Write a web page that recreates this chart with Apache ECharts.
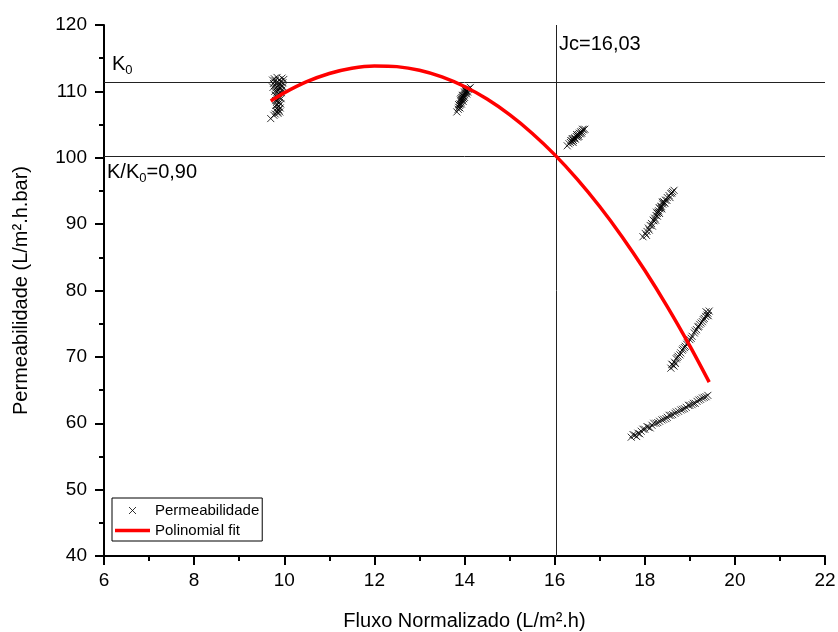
<!DOCTYPE html>
<html>
<head>
<meta charset="utf-8">
<script src="https://cdn.jsdelivr.net/npm/echarts@6/dist/echarts.min.js"></script>
<style>
  html, body { margin: 0; padding: 0; background: #fff; }
  #chart { width: 838px; height: 632px; }
</style>
</head>
<body>
<div id="chart"></div>
<script>
var FONT = '"Liberation Sans", Arial, sans-serif';

// axis ranges / ticks
var xMin = 6, xMax = 22, xStep = 2;
var yMin = 40, yMax = 120, yStep = 10;

// reference lines
var k0 = 111.42;
var kRatio = 0.90;
var jc = 16.03;

// measured points, one array per run
var run1 = [[9.78,111.9],[9.84,112.1],[9.95,112.0],[9.80,111.6],[9.88,111.7],[9.92,111.5],[9.76,111.2],[9.83,111.3],[9.90,111.1],[9.97,111.3],[9.79,110.9],[9.86,110.8],[9.93,110.9],[9.81,110.5],[9.89,110.4],[9.85,110.2],[9.92,110.6],[9.84,109.9],[9.88,109.6],[9.83,109.3],[9.90,109.1],[9.86,108.8],[9.84,108.5],[9.89,108.3],[9.85,108.0],[9.87,107.7],[9.83,107.4],[9.88,107.2],[9.85,106.9],[9.80,106.6],[9.86,106.7],[9.70,105.9],
  [9.74,111.7],[9.99,111.8],[9.97,110.7],[9.75,110.6],[9.95,110.2],[9.79,110.0],[9.93,109.8],[9.80,109.4],[9.93,108.9],[9.81,108.6],[9.92,108.1],[9.81,107.9],[9.91,107.5],[9.82,107.0],[9.90,106.9],[9.77,106.4]];
var run2 = [[13.83,106.9],[13.86,107.3],[13.87,107.6],[13.89,107.9],[13.90,108.1],[13.92,108.4],[13.93,108.6],[13.95,108.8],[13.96,109.0],[13.97,109.2],[13.98,109.4],[14.00,109.5],[14.01,109.7],[14.03,109.9],[14.04,110.0],[14.06,110.1],[14.08,110.3],[14.10,110.4],[14.13,110.6],[13.94,109.1],[14.00,109.9],[13.98,108.9],[14.02,110.2],[13.91,108.7],
  [13.87,108.0],[13.93,108.1],[13.92,108.9],[13.97,108.5],[14.00,109.1],[13.95,109.4],[14.05,109.6],[14.01,110.3],[14.07,109.9],[13.90,107.5]];
var run3 = [[16.28,101.8],[16.32,102.1],[16.35,102.3],[16.38,102.5],[16.40,102.7],[16.43,102.9],[16.45,103.0],[16.48,103.2],[16.50,103.4],[16.53,103.5],[16.55,103.7],[16.58,103.9],[16.61,104.0],[16.64,104.2],[16.67,104.3],[16.42,102.6],[16.51,103.1],[16.57,103.6],
  [16.36,102.6],[16.41,102.3],[16.46,102.8],[16.49,103.5],[16.54,103.2],[16.60,103.7],[16.62,104.3],[16.39,102.9]];
var run4 = [[17.96,88.1],[18.01,88.6],[18.05,88.9],[18.08,89.4],[18.12,89.8],[18.15,90.1],[18.19,90.6],[18.22,90.9],[18.25,91.3],[18.28,91.6],[18.31,92.0],[18.34,92.3],[18.37,92.7],[18.40,93.0],[18.43,93.3],[18.46,93.6],[18.50,94.0],[18.54,94.3],[18.58,94.6],[18.62,94.9],[18.65,95.1],[18.30,91.8],[18.36,92.6],[18.41,93.4],[18.20,90.5],
  [18.04,88.3],[18.10,89.1],[18.17,89.7],[18.24,90.6],[18.28,91.2],[18.33,91.6],[18.38,92.3],[18.45,93.1],[18.49,93.6],[18.56,94.0],[18.60,94.7],[18.26,91.8],[18.32,92.5],[18.39,93.3]];
var run5 = [[18.58,68.3],[18.62,68.8],[18.66,69.2],[18.70,69.7],[18.74,70.1],[18.80,70.6],[18.85,71.2],[18.90,71.6],[18.95,72.1],[19.00,72.6],[19.05,73.1],[19.10,73.6],[19.15,74.1],[19.20,74.6],[19.25,75.1],[19.30,75.6],[19.35,76.1],[19.40,76.6],[19.43,76.9],[18.65,68.6],[18.88,71.4],[19.18,74.5],[19.32,75.8],
  [18.60,68.9],[18.68,69.0],[18.72,69.9],[18.78,70.3],[18.83,71.0],[18.93,71.9],[19.03,72.8],[19.12,73.9],[19.22,74.9],[19.28,75.3],[19.38,76.3],[19.36,76.8],[19.41,76.2]];
var run6 = [[17.70,57.9],[17.78,58.2],[17.85,58.5],[17.92,58.8],[18.00,59.1],[18.08,59.4],[18.16,59.7],[18.25,60.0],[18.33,60.3],[18.42,60.6],[18.50,60.9],[18.58,61.2],[18.67,61.5],[18.75,61.8],[18.84,62.1],[18.92,62.4],[19.00,62.7],[19.08,63.0],[19.16,63.3],[19.24,63.6],[19.32,63.9],[19.40,64.2],[17.82,58.0],[18.05,59.5],[18.38,60.5],[18.70,61.7],[19.05,62.8],[19.28,63.8],
  [17.74,58.3],[17.89,58.4],[17.96,59.1],[18.12,59.3],[18.20,60.0],[18.29,60.1],[18.47,60.7],[18.54,61.2],[18.62,61.3],[18.80,62.0],[18.88,62.2],[18.97,62.7],[19.12,63.0],[19.20,63.5],[19.36,64.0]];

// polynomial fit
var fitX = [9.7, 10, 10.5, 11, 11.5, 12, 12.5, 13, 13.5, 14, 14.5, 15, 15.5, 16, 16.5, 17, 17.5, 18, 18.5, 19, 19.43];
var fitY = [108.55, 109.78, 111.46, 112.70, 113.49, 113.83, 113.73, 113.18, 112.18, 110.73, 108.84, 106.49, 103.70, 100.47, 96.78, 92.65, 88.07, 83.04, 77.57, 71.65, 66.19];

var cross = 'path://M0,0L10,10M10,0L0,10';
var crossLegend = 'path://M0,0L0,0M14,14L14,14M3.5,3.5L10.5,10.5M10.5,3.5L3.5,10.5';
var barLegend = 'path://M0,0L35,0L35,3.5L0,3.5Z';

var chart = echarts.init(document.getElementById('chart'), null, { renderer: 'canvas' });

function axisCommon() {
  return {
    type: 'value',
    axisLine: { show: true, onZero: false, lineStyle: { color: '#000', width: 2 } },
    axisTick: { show: true, inside: false, length: 9, lineStyle: { color: '#000', width: 2 } },
    minorTick: { show: true, splitNumber: 2, length: 5, lineStyle: { color: '#000', width: 2 } },
    splitLine: { show: false },
    nameLocation: 'middle',
    nameTextStyle: { fontSize: 20, color: '#000', fontFamily: FONT },
    axisLabel: { fontSize: 19, color: '#000', fontFamily: FONT }
  };
}

var xAxis = axisCommon();
xAxis.min = xMin; xAxis.max = xMax; xAxis.interval = xStep;
xAxis.name = 'Fluxo Normalizado (L/m².h)';
xAxis.nameGap = 55;
xAxis.axisLabel.margin = 15;

var yAxis = axisCommon();
yAxis.min = yMin; yAxis.max = yMax; yAxis.interval = yStep;
yAxis.name = 'Permeabilidade (L/m².h.bar)';
yAxis.nameGap = 73;
yAxis.axisLabel.margin = 17;

var allPoints = run1.concat(run2, run3, run4, run5, run6);

chart.setOption({
  animation: false,
  backgroundColor: '#fff',
  grid: { left: 104, right: 13, top: 25, bottom: 76, outerBoundsMode: 'none', containLabel: false },
  xAxis: xAxis,
  yAxis: yAxis,
  legend: {
    orient: 'vertical',
    left: 112,
    top: 498,
    itemWidth: 35,
    itemHeight: 14,
    itemGap: 3,
    padding: [3, 3, 3, 3],
    borderColor: '#000',
    borderWidth: 1,
    textStyle: { fontSize: 15, color: '#000', fontFamily: FONT },
    data: [
      { name: 'Permeabilidade', icon: crossLegend, itemStyle: { color: 'none', borderColor: '#000', borderWidth: 1 } },
      { name: 'Polinomial fit', icon: barLegend, itemStyle: { color: '#ff0000', borderWidth: 0 } }
    ]
  },
  series: [
    {
      name: 'Permeabilidade',
      type: 'scatter',
      data: allPoints,
      symbol: cross,
      symbolSize: 7,
      itemStyle: { color: 'none', borderColor: '#000', borderWidth: 1 },
      silent: true,
      markLine: {
        silent: true,
        symbol: 'none',
        label: { show: false },
        lineStyle: { color: '#222', width: 1, type: 'solid' },
        data: [
          { yAxis: k0 },
          { yAxis: +(k0 * kRatio).toFixed(2) },
          { xAxis: jc }
        ]
      }
    },
    {
      name: 'Polinomial fit',
      type: 'line',
      data: fitX.map(function (x, i) { return [x, fitY[i]]; }),
      smooth: 0.3,
      symbol: 'none',
      showSymbol: false,
      lineStyle: { color: '#ff0000', width: 3.5 },
      itemStyle: { color: '#ff0000' },
      silent: true,
      z: 5
    }
  ]
});

// annotation texts next to the reference lines
var pK0 = chart.convertToPixel({ gridIndex: 0 }, [xMin, k0]);
var pK9 = chart.convertToPixel({ gridIndex: 0 }, [xMin, k0 * kRatio]);
var pJc = chart.convertToPixel({ gridIndex: 0 }, [jc, yMax]);
var rich = {
  a: { fontSize: 20, lineHeight: 24, color: '#000', fontFamily: FONT },
  s: { fontSize: 13, lineHeight: 13, verticalAlign: 'bottom', color: '#000', fontFamily: FONT }
};

chart.setOption({
  graphic: [
    { type: 'text', left: pK0[0] + 8, top: pK0[1] - 27, silent: true,
      style: { text: '{a|K}{s|0}', rich: rich } },
    { type: 'text', left: pK9[0] + 3, top: pK9[1] + 7, silent: true,
      style: { text: '{a|K/K}{s|0}{a|=0,90}', rich: rich } },
    { type: 'text', left: pJc[0] + 3, top: pJc[1] + 9, silent: true,
      style: { text: '{a|Jc=16,03}', rich: rich } }
  ]
});
</script>
</body>
</html>
